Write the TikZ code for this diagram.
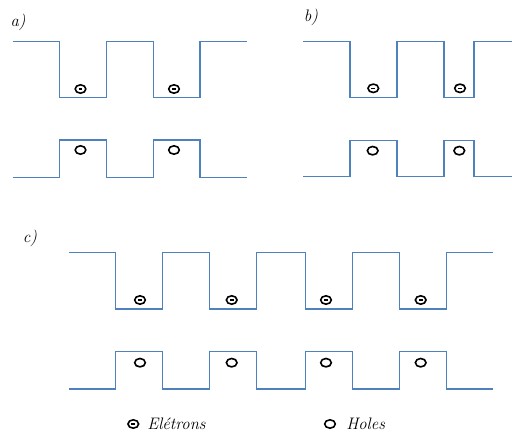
\documentclass[tikz,border=0pt]{standalone}
\usetikzlibrary{shapes.geometric}

\definecolor{bandblue}{RGB}{79,129,189}

\begin{document}
\begin{tikzpicture}[x=0.75pt, y=-0.75pt,
    band/.style={draw=bandblue, line width=1pt, line join=miter},
    hole/.style={draw, ellipse, line width=1.2pt, inner sep=0pt, minimum width=8pt, minimum height=6.3pt},
    electron/.style={hole, path picture={\draw[line width=0.9pt] ([xshift=-1.4pt]path picture bounding box.center) -- ([xshift=1.4pt]path picture bounding box.center);}},
    tag/.style={font=\fontsize{12.5}{15}\selectfont\itshape}]

    \useasboundingbox (0,0) rectangle (512,435);

    % a)
    \node[tag] (la) at (18, 22) {a)};
    \draw[band] (12.7,41.7) -- (59.7,41.7) -- (59.7,97.7) -- (106.3,97.7) -- (106.3,41.7) -- (153.3,41.7) -- (153.3,97.7) -- (200,97.7) -- (200,41.7) -- (246.7,41.7);
    \draw[band] (12.7,177.3) -- (59.7,177.3) -- (59.7,140) -- (106.3,140) -- (106.3,177.3) -- (153.3,177.3) -- (153.3,140) -- (200,140) -- (200,177.3) -- (246.7,177.3);
    \node[electron] (ea1) at (80.5, 89) {};
    \node[electron] (ea2) at (174, 89) {};
    \node[hole] (ha1) at (80.5, 150) {};
    \node[hole] (ha2) at (174, 150) {};

    % b)
    \node[tag] (lb) at (311, 17) {b)};
    \draw[band] (303.3,41.7) -- (350,41.7) -- (350,97.7) -- (397,97.7) -- (397,41.7) -- (444,41.7) -- (444,97.7) -- (474,97.7) -- (474,41.7) -- (512,41.7);
    \draw[band] (303.3,176.7) -- (350,176.7) -- (350,140.3) -- (397,140.3) -- (397,176.7) -- (444,176.7) -- (444,140.3) -- (474,140.3) -- (474,176.7) -- (512,176.7);
    \node[electron] (eb1) at (373.3, 88.3) {};
    \node[electron] (eb2) at (460, 88.3) {};
    \node[hole] (hb1) at (372.7, 150.7) {};
    \node[hole] (hb2) at (459.3, 150.7) {};

    % c)
    \node[tag] (lc) at (30, 238) {c)};
    \draw[band] (69,252.7) -- (115.7,252.7) -- (115.7,309) -- (162.7,309) -- (162.7,252.7) -- (209.7,252.7) -- (209.7,309) -- (256.3,309) -- (256.3,252.7) -- (305.3,252.7) -- (305.3,309) -- (352.3,309) -- (352.3,252.7) -- (399.3,252.7) -- (399.3,309) -- (446.3,309) -- (446.3,252.7) -- (492.7,252.7);
    \draw[band] (69,389) -- (115.7,389) -- (115.7,351.7) -- (162.7,351.7) -- (162.7,389) -- (209.7,389) -- (209.7,351.7) -- (256.3,351.7) -- (256.3,389) -- (305.3,389) -- (305.3,351.7) -- (352.3,351.7) -- (352.3,389) -- (399.3,389) -- (399.3,351.7) -- (446.3,351.7) -- (446.3,389) -- (492.7,389);
    \node[electron] (ec1) at (140, 300) {};
    \node[electron] (ec2) at (231.7, 300) {};
    \node[electron] (ec3) at (326, 300) {};
    \node[electron] (ec4) at (420.7, 300) {};
    \node[hole] (hc1) at (140, 362.7) {};
    \node[hole] (hc2) at (231.7, 362.7) {};
    \node[hole] (hc3) at (326, 362.7) {};
    \node[hole] (hc4) at (420.7, 362.7) {};

    % legend
    \node[electron] (ekey) at (133.3, 424) {};
    \node[tag, anchor=west, inner sep=0pt] (etext) at (147, 424) {Elétrons};
    \node[hole] (hkey) at (330, 424) {};
    \node[tag, anchor=west, inner sep=0pt] (htext) at (346, 424) {Holes};

\end{tikzpicture}
\end{document}
